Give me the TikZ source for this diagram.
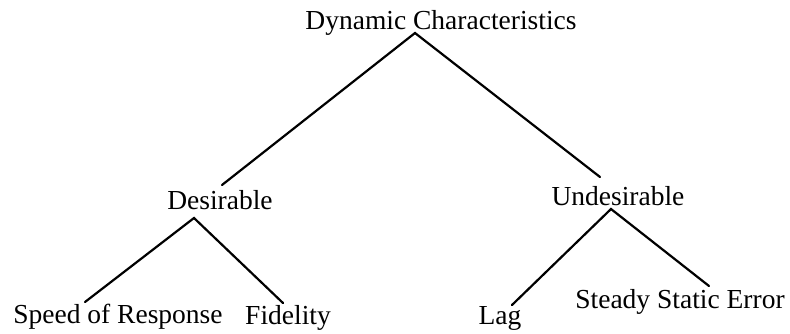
\documentclass[tikz,border=0pt]{standalone}
\usepackage{fontspec}
\setmainfont{Liberation Serif}
\tikzset{%
  % Specifications for style of nodes:
  term/.style = {inner sep=0pt, anchor=base,
                 font=\fontsize{27.5}{30}\selectfont},
  branch/.style = {line width=2.2pt, line cap=round}
}
\begin{document}
\begin{tikzpicture}[x=1pt, y=-1pt]
  \useasboundingbox (0,0) rectangle (790,333);

  \node (dyn)   [term] at (441,29)  {Dynamic Characteristics};
  \node (des)   [term] at (220,209) {Desirable};
  \node (undes) [term] at (618,205) {Undesirable};
  \node (speed) [term] at (118,323) {Speed of Response};
  \node (fid)   [term] at (288,324) {Fidelity};
  \node (lag)   [term] at (500,324) {Lag};
  \node (err)   [term] at (680,308) {Steady Static Error};

  \draw[branch] ([shift={(2,-24)}]des.base) -- ([shift={(-26,4)}]dyn.base) -- ([shift={(-18,-28)}]undes.base);
  \draw[branch] ([shift={(-33,-21)}]speed.base) -- ([shift={(-26,9)}]des.base) -- ([shift={(-5,-21)}]fid.base);
  \draw[branch] ([shift={(12,-19)}]lag.base) -- ([shift={(-7,4)}]undes.base) -- ([shift={(29,-22)}]err.base);
\end{tikzpicture}
\end{document}
